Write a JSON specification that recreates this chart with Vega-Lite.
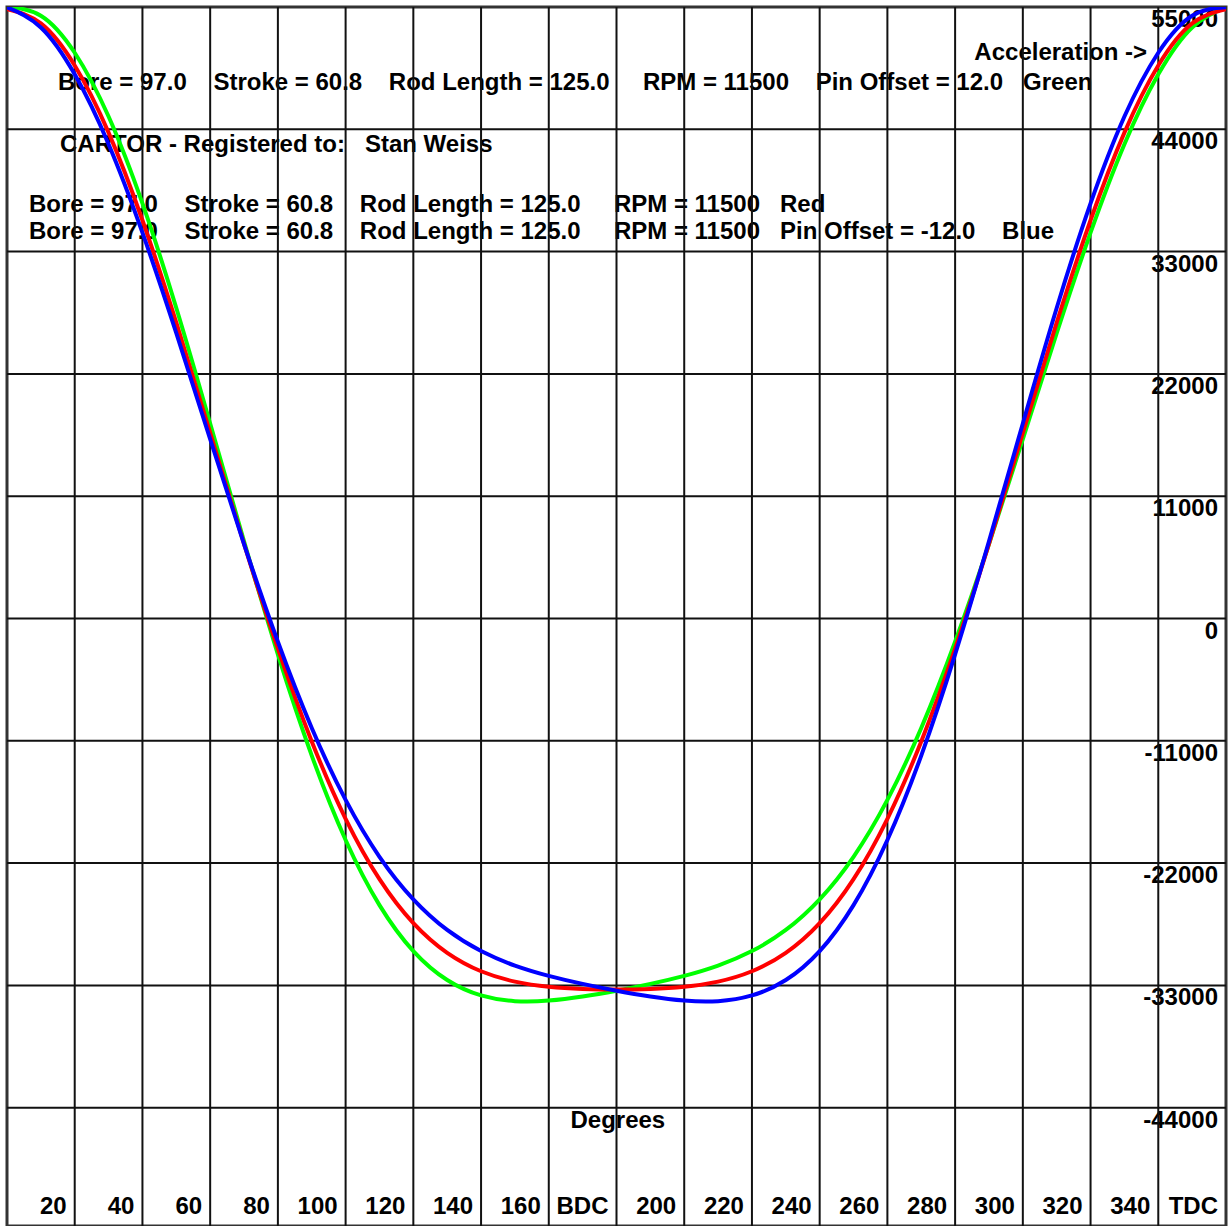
{
  "$schema": "https://vega.github.io/schema/vega-lite/v6.json",
  "width": 1219,
  "height": 1219,
  "autosize": "none",
  "padding": {"left": 7, "top": 7, "right": 3, "bottom": 0},
  "background": "white",
  "config": {"view": {"stroke": "#333", "strokeWidth": 3}, "font": "Liberation Sans"},
  "datasets": {
    "gx": [{"g": 20}, {"g": 40}, {"g": 60}, {"g": 80}, {"g": 100}, {"g": 120}, {"g": 140}, {"g": 160}, {"g": 180}, {"g": 200}, {"g": 220}, {"g": 240}, {"g": 260}, {"g": 280}, {"g": 300}, {"g": 320}, {"g": 340}],
    "gy": [{"g": -44000}, {"g": -33000}, {"g": -22000}, {"g": -11000}, {"g": 0}, {"g": 11000}, {"g": 22000}, {"g": 33000}, {"g": 44000}],
    "xl": [{"deg": 20, "lab": "20"}, {"deg": 40, "lab": "40"}, {"deg": 60, "lab": "60"}, {"deg": 80, "lab": "80"}, {"deg": 100, "lab": "100"}, {"deg": 120, "lab": "120"}, {"deg": 140, "lab": "140"}, {"deg": 160, "lab": "160"}, {"deg": 180, "lab": "BDC"}, {"deg": 200, "lab": "200"}, {"deg": 220, "lab": "220"}, {"deg": 240, "lab": "240"}, {"deg": 260, "lab": "260"}, {"deg": 280, "lab": "280"}, {"deg": 300, "lab": "300"}, {"deg": 320, "lab": "320"}, {"deg": 340, "lab": "340"}, {"deg": 360, "lab": "TDC"}],
    "yl": [{"acc": 55000, "lab": "55000"}, {"acc": 44000, "lab": "44000"}, {"acc": 33000, "lab": "33000"}, {"acc": 22000, "lab": "22000"}, {"acc": 11000, "lab": "11000"}, {"acc": 0, "lab": "0"}, {"acc": -11000, "lab": "-11000"}, {"acc": -22000, "lab": "-22000"}, {"acc": -33000, "lab": "-33000"}, {"acc": -44000, "lab": "-44000"}],
    "curves": [
      {"deg": 0, "series": "Green", "acc": 54974}, {"deg": 10, "series": "Green", "acc": 54218}, {"deg": 20, "series": "Green", "acc": 50887}, {"deg": 30, "series": "Green", "acc": 45147}, {"deg": 40, "series": "Green", "acc": 37330}, {"deg": 50, "series": "Green", "acc": 27928}, {"deg": 60, "series": "Green", "acc": 17541}, {"deg": 70, "series": "Green", "acc": 6953}, {"deg": 80, "series": "Green", "acc": -3225}, {"deg": 90, "series": "Green", "acc": -12329}, {"deg": 100, "series": "Green", "acc": -19920}, {"deg": 110, "series": "Green", "acc": -25776}, {"deg": 120, "series": "Green", "acc": -29911}, {"deg": 130, "series": "Green", "acc": -32515}, {"deg": 140, "series": "Green", "acc": -33904}, {"deg": 150, "series": "Green", "acc": -34417}, {"deg": 160, "series": "Green", "acc": -34367}, {"deg": 170, "series": "Green", "acc": -34000}, {"deg": 180, "series": "Green", "acc": -33477}, {"deg": 190, "series": "Green", "acc": -32865}, {"deg": 200, "series": "Green", "acc": -32142}, {"deg": 210, "series": "Green", "acc": -31215}, {"deg": 220, "series": "Green", "acc": -29913}, {"deg": 230, "series": "Green", "acc": -28013}, {"deg": 240, "series": "Green", "acc": -25258}, {"deg": 250, "series": "Green", "acc": -21432}, {"deg": 260, "series": "Green", "acc": -16317}, {"deg": 270, "series": "Green", "acc": -9847}, {"deg": 280, "series": "Green", "acc": -2094}, {"deg": 290, "series": "Green", "acc": 6699}, {"deg": 300, "series": "Green", "acc": 16130}, {"deg": 310, "series": "Green", "acc": 25661}, {"deg": 320, "series": "Green", "acc": 34702}, {"deg": 330, "series": "Green", "acc": 42661}, {"deg": 340, "series": "Green", "acc": 48944}, {"deg": 350, "series": "Green", "acc": 53163}, {"deg": 360, "series": "Green", "acc": 54974},
      {"deg": 0, "series": "Red", "acc": 54811}, {"deg": 10, "series": "Red", "acc": 53522}, {"deg": 20, "series": "Red", "acc": 49739}, {"deg": 30, "series": "Red", "acc": 43704}, {"deg": 40, "series": "Red", "acc": 35819}, {"deg": 50, "series": "Red", "acc": 26607}, {"deg": 60, "series": "Red", "acc": 16688}, {"deg": 70, "series": "Red", "acc": 6712}, {"deg": 80, "series": "Red", "acc": -2702}, {"deg": 90, "series": "Red", "acc": -11054}, {"deg": 100, "series": "Red", "acc": -18014}, {"deg": 110, "series": "Red", "acc": -23445}, {"deg": 120, "series": "Red", "acc": -27400}, {"deg": 130, "series": "Red", "acc": -30073}, {"deg": 140, "series": "Red", "acc": -31729}, {"deg": 150, "series": "Red", "acc": -32659}, {"deg": 160, "series": "Red", "acc": -33122}, {"deg": 170, "series": "Red", "acc": -33314}, {"deg": 180, "series": "Red", "acc": -33367}, {"deg": 190, "series": "Red", "acc": -33314}, {"deg": 200, "series": "Red", "acc": -33122}, {"deg": 210, "series": "Red", "acc": -32659}, {"deg": 220, "series": "Red", "acc": -31729}, {"deg": 230, "series": "Red", "acc": -30073}, {"deg": 240, "series": "Red", "acc": -27400}, {"deg": 250, "series": "Red", "acc": -23445}, {"deg": 260, "series": "Red", "acc": -18014}, {"deg": 270, "series": "Red", "acc": -11054}, {"deg": 280, "series": "Red", "acc": -2702}, {"deg": 290, "series": "Red", "acc": 6712}, {"deg": 300, "series": "Red", "acc": 16688}, {"deg": 310, "series": "Red", "acc": 26607}, {"deg": 320, "series": "Red", "acc": 35819}, {"deg": 330, "series": "Red", "acc": 43704}, {"deg": 340, "series": "Red", "acc": 49739}, {"deg": 350, "series": "Red", "acc": 53522}, {"deg": 360, "series": "Red", "acc": 54811},
      {"deg": 0, "series": "Blue", "acc": 54974}, {"deg": 10, "series": "Blue", "acc": 53163}, {"deg": 20, "series": "Blue", "acc": 48944}, {"deg": 30, "series": "Blue", "acc": 42661}, {"deg": 40, "series": "Blue", "acc": 34702}, {"deg": 50, "series": "Blue", "acc": 25661}, {"deg": 60, "series": "Blue", "acc": 16130}, {"deg": 70, "series": "Blue", "acc": 6699}, {"deg": 80, "series": "Blue", "acc": -2094}, {"deg": 90, "series": "Blue", "acc": -9847}, {"deg": 100, "series": "Blue", "acc": -16317}, {"deg": 110, "series": "Blue", "acc": -21432}, {"deg": 120, "series": "Blue", "acc": -25258}, {"deg": 130, "series": "Blue", "acc": -28013}, {"deg": 140, "series": "Blue", "acc": -29913}, {"deg": 150, "series": "Blue", "acc": -31215}, {"deg": 160, "series": "Blue", "acc": -32142}, {"deg": 170, "series": "Blue", "acc": -32865}, {"deg": 180, "series": "Blue", "acc": -33477}, {"deg": 190, "series": "Blue", "acc": -34000}, {"deg": 200, "series": "Blue", "acc": -34367}, {"deg": 210, "series": "Blue", "acc": -34417}, {"deg": 220, "series": "Blue", "acc": -33904}, {"deg": 230, "series": "Blue", "acc": -32515}, {"deg": 240, "series": "Blue", "acc": -29911}, {"deg": 250, "series": "Blue", "acc": -25776}, {"deg": 260, "series": "Blue", "acc": -19920}, {"deg": 270, "series": "Blue", "acc": -12329}, {"deg": 280, "series": "Blue", "acc": -3225}, {"deg": 290, "series": "Blue", "acc": 6953}, {"deg": 300, "series": "Blue", "acc": 17541}, {"deg": 310, "series": "Blue", "acc": 27928}, {"deg": 320, "series": "Blue", "acc": 37330}, {"deg": 330, "series": "Blue", "acc": 45147}, {"deg": 340, "series": "Blue", "acc": 50887}, {"deg": 350, "series": "Blue", "acc": 54218}, {"deg": 360, "series": "Blue", "acc": 54974}
    ]
  },
  "layer": [
    {
      "data": {"name": "curves"},
      "transform": [{"filter": "datum.series === 'Green'"}],
      "mark": {"type": "line", "color": "#00ff00", "strokeWidth": 4, "interpolate": "natural", "clip": true, "opacity": 0},
      "encoding": {
        "x": {"field": "deg", "type": "quantitative", "scale": {"domain": [0, 360], "nice": false, "zero": false}, "axis": null},
        "y": {"field": "acc", "type": "quantitative", "scale": {"domain": [-54640, 55000], "nice": false, "zero": false}, "axis": null}
      }
    },
    {
      "data": {"values": [{"label": "Bore = 97.0\u00a0\u00a0\u00a0\u00a0Stroke = 60.8\u00a0\u00a0\u00a0\u00a0Rod Length = 125.0\u00a0\u00a0\u00a0\u00a0\u00a0RPM = 11500\u00a0\u00a0\u00a0\u00a0Pin Offset = 12.0\u00a0\u00a0\u00a0Green"}]},
      "mark": {"type": "text", "align": "left", "baseline": "alphabetic", "fontSize": 24, "fontWeight": "bold", "font": "Liberation Sans", "color": "black"},
      "encoding": {"x": {"datum": 15.06, "type": "quantitative", "axis": null}, "y": {"datum": 47535, "type": "quantitative", "axis": null}, "text": {"field": "label", "type": "nominal"}}
    },
    {
      "data": {"values": [{"label": "CARTOR - Registered to:\u00a0\u00a0\u00a0Stan Weiss"}]},
      "mark": {"type": "text", "align": "left", "baseline": "alphabetic", "fontSize": 24, "fontWeight": "bold", "font": "Liberation Sans", "color": "black"},
      "encoding": {"x": {"datum": 15.65, "type": "quantitative", "axis": null}, "y": {"datum": 41959, "type": "quantitative", "axis": null}, "text": {"field": "label", "type": "nominal"}}
    },
    {
      "data": {"values": [{"label": "Bore = 97.0\u00a0\u00a0\u00a0\u00a0Stroke = 60.8\u00a0\u00a0\u00a0\u00a0Rod Length = 125.0\u00a0\u00a0\u00a0\u00a0\u00a0RPM = 11500\u00a0\u00a0\u00a0Red"}]},
      "mark": {"type": "text", "align": "left", "baseline": "alphabetic", "fontSize": 24, "fontWeight": "bold", "font": "Liberation Sans", "color": "black"},
      "encoding": {"x": {"datum": 6.5, "type": "quantitative", "axis": null}, "y": {"datum": 36562, "type": "quantitative", "axis": null}, "text": {"field": "label", "type": "nominal"}}
    },
    {
      "data": {"values": [{"label": "Bore = 97.0\u00a0\u00a0\u00a0\u00a0Stroke = 60.8\u00a0\u00a0\u00a0\u00a0Rod Length = 125.0\u00a0\u00a0\u00a0\u00a0\u00a0RPM = 11500\u00a0\u00a0\u00a0Pin Offset = -12.0\u00a0\u00a0\u00a0\u00a0Blue"}]},
      "mark": {"type": "text", "align": "left", "baseline": "alphabetic", "fontSize": 24, "fontWeight": "bold", "font": "Liberation Sans", "color": "black"},
      "encoding": {"x": {"datum": 6.5, "type": "quantitative", "axis": null}, "y": {"datum": 34134, "type": "quantitative", "axis": null}, "text": {"field": "label", "type": "nominal"}}
    },
    {
      "data": {"values": [{"label": "Acceleration ->"}]},
      "mark": {"type": "text", "align": "right", "baseline": "alphabetic", "fontSize": 24, "fontWeight": "bold", "font": "Liberation Sans", "color": "black"},
      "encoding": {"x": {"datum": 336.7, "type": "quantitative", "axis": null}, "y": {"datum": 50233, "type": "quantitative", "axis": null}, "text": {"field": "label", "type": "nominal"}}
    },
    {
      "data": {"values": [{"label": "Degrees"}]},
      "mark": {"type": "text", "align": "center", "baseline": "alphabetic", "fontSize": 24, "fontWeight": "bold", "font": "Liberation Sans", "color": "black"},
      "encoding": {"x": {"datum": 180.4, "type": "quantitative", "axis": null}, "y": {"datum": -45823, "type": "quantitative", "axis": null}, "text": {"field": "label", "type": "nominal"}}
    },
    {
      "data": {"name": "xl"},
      "mark": {"type": "text", "align": "right", "baseline": "alphabetic", "dx": -8, "fontSize": 24, "fontWeight": "bold", "font": "Liberation Sans", "color": "black"},
      "encoding": {"x": {"field": "deg", "type": "quantitative", "axis": null}, "y": {"datum": -53557, "type": "quantitative", "axis": null}, "text": {"field": "lab", "type": "nominal"}}
    },
    {
      "data": {"name": "yl"},
      "mark": {"type": "text", "align": "right", "baseline": "alphabetic", "dx": -8, "dy": 20, "fontSize": 24, "fontWeight": "bold", "font": "Liberation Sans", "color": "black"},
      "encoding": {"x": {"datum": 360, "type": "quantitative", "axis": null}, "y": {"field": "acc", "type": "quantitative", "axis": null}, "text": {"field": "lab", "type": "nominal"}}
    },
    {
      "data": {"name": "gx"},
      "mark": {"type": "rule", "color": "#111", "strokeWidth": 2},
      "encoding": {"x": {"field": "g", "type": "quantitative", "axis": null}}
    },
    {
      "data": {"name": "gy"},
      "mark": {"type": "rule", "color": "#111", "strokeWidth": 2},
      "encoding": {"y": {"field": "g", "type": "quantitative", "axis": null}}
    },
    {
      "data": {"name": "curves"},
      "transform": [{"filter": "datum.series === 'Green'"}],
      "mark": {"type": "line", "color": "#00ff00", "strokeWidth": 4, "interpolate": "natural", "clip": true},
      "encoding": {
        "x": {"field": "deg", "type": "quantitative", "axis": null},
        "y": {"field": "acc", "type": "quantitative", "axis": null}
      }
    },
    {
      "data": {"name": "curves"},
      "transform": [{"filter": "datum.series === 'Red'"}],
      "mark": {"type": "line", "color": "#ff0000", "strokeWidth": 4, "interpolate": "natural", "clip": true},
      "encoding": {
        "x": {"field": "deg", "type": "quantitative", "axis": null},
        "y": {"field": "acc", "type": "quantitative", "axis": null}
      }
    },
    {
      "data": {"name": "curves"},
      "transform": [{"filter": "datum.series === 'Blue'"}],
      "mark": {"type": "line", "color": "#0000ff", "strokeWidth": 4, "interpolate": "natural", "clip": true},
      "encoding": {
        "x": {"field": "deg", "type": "quantitative", "axis": null},
        "y": {"field": "acc", "type": "quantitative", "axis": null}
      }
    }
  ]
}
